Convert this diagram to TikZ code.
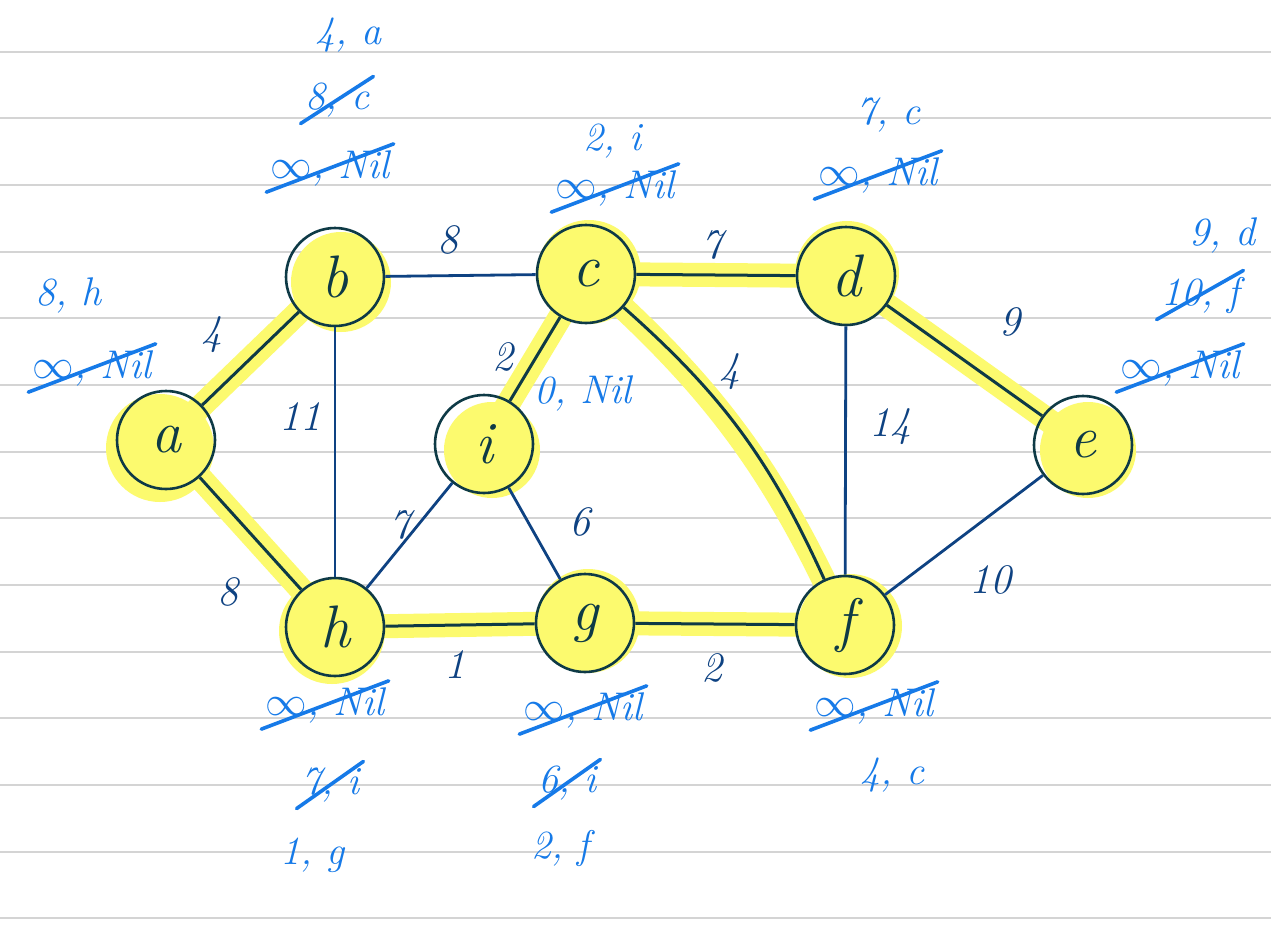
\documentclass[tikz,border=0pt]{standalone}
\begin{document}
\definecolor{ruling}{RGB}{212,212,212}
\definecolor{hl}{RGB}{252,250,110}
\definecolor{nodeline}{RGB}{14,58,70}
\definecolor{edgeblue}{RGB}{14,66,130}
\definecolor{noteblue}{RGB}{22,122,232}
\begin{tikzpicture}[x=0.5pt,y=-0.5pt,
  vertex/.style={circle, draw=nodeline, line width=1.3pt, minimum size=49pt, inner sep=0pt,
    font=\fontsize{30}{30}\selectfont\itshape, text=nodeline},
  plain/.style={draw=edgeblue, line width=1.4pt},
  tree/.style={draw=nodeline, line width=1.5pt},
  glow/.style={draw=hl, line width=12pt, line cap=round},
  weight/.style={text=edgeblue, inner sep=0pt, font=\fontsize{21}{21}\selectfont\itshape},
  note/.style={text=noteblue, inner sep=0pt, font=\fontsize{20}{20}\selectfont\itshape},
  strike/.style={draw=noteblue, line width=1.8pt, line cap=round}]
\useasboundingbox (0,0) rectangle (1271,933);
\fill[white] (0,0) rectangle (1271,933);
% ruled paper
\foreach \k in {0,...,13}
  \draw[ruling, line width=1pt] (0,{51.7+66.67*\k}) -- (1271,{51.7+66.67*\k});

% vertex centres
\coordinate (pa) at (166,440);
\coordinate (pb) at (335,277);
\coordinate (pc) at (586,274);
\coordinate (pd) at (846,276);
\coordinate (pe) at (1083,445);
\coordinate (pi) at (484,444);
\coordinate (ph) at (335,627);
\coordinate (pg) at (585,623);
\coordinate (pf) at (845,625);

% highlighter marks
\fill[hl] (160,448) circle (27pt);
\fill[hl] (341,282) circle (25pt);
\fill[hl] (589,272) circle (26pt);
\fill[hl] (847,273) circle (26pt);
\fill[hl] (1088,450) circle (24pt);
\fill[hl] (492,450) circle (24pt);
\fill[hl] (332,631) circle (26.5pt);
\fill[hl] (588,621) circle (26pt);
\fill[hl] (850,626) circle (26pt);
\draw[glow] (pa) -- (pb);
\draw[glow] (pa) -- (ph);
\draw[glow] (pc) -- (pi);
\draw[glow] (pc) -- (pd);
\draw[glow] (pc) to[bend left=12] (pf);
\draw[glow] (pd) -- (pe);
\draw[glow] (ph) -- (pg);
\draw[glow] (pg) -- (pf);

% vertices
\node[vertex] (a) at (pa) {a};
\node[vertex] (b) at (pb) {b};
\node[vertex] (c) at (pc) {c};
\node[vertex] (d) at (pd) {d};
\node[vertex] (e) at (pe) {e};
\node[vertex] (i) at (pi) {i};
\node[vertex] (h) at (ph) {h};
\node[vertex] (g) at (pg) {g};
\node[vertex] (f) at (pf) {f};

% edges
\draw[plain] (b) -- (c);
\draw[plain] (b) -- (h);
\draw[plain] (i) -- (h);
\draw[plain] (i) -- (g);
\draw[plain] (d) -- (f);
\draw[plain] (e) -- (f);
\draw[tree] (a) -- (b);
\draw[tree] (a) -- (h);
\draw[tree] (c) -- (i);
\draw[tree] (c) -- (d);
\draw[tree] (c) to[bend left=12] (f);
\draw[tree] (d) -- (e);
\draw[tree] (h) -- (g);
\draw[tree] (g) -- (f);

% weights
\node[weight] (wab) at (212,335) {4};
\node[weight] (wbh) at (300,417) {11};
\node[weight] (wbc) at (448,240) {8};
\node[weight] (wci) at (503,357) {2};
\node[weight] (wcd) at (712,245) {7};
\node[weight] (wcf) at (730,372) {4};
\node[weight] (wdf) at (890,427) {14};
\node[weight] (wde) at (1010,322) {9};
\node[weight] (wah) at (228,592) {8};
\node[weight] (whi) at (400,525) {7};
\node[weight] (wig) at (580,522) {6};
\node[weight] (whg) at (455,665) {1};
\node[weight] (wgf) at (712,668) {2};
\node[weight] (wef) at (990,580) {10};

% distance / predecessor notes
\node[note] (a1) at (68,295) {8, h};
\node[note] (a0) at (92,368) {$\infty$, Nil};
\node[note] (b2) at (348,35) {4, a};
\node[note] (b1) at (337,100) {8, c};
\node[note] (b0) at (330,168) {$\infty$, Nil};
\node[note] (c1) at (612,141) {2, i};
\node[note] (c0) at (615,188) {$\infty$, Nil};
\node[note] (d1) at (888,115) {7, c};
\node[note] (d0) at (878,175) {$\infty$, Nil};
\node[note] (e2) at (1222,235) {9, d};
\node[note] (e1) at (1200,295) {10, f};
\node[note] (e0) at (1180,368) {$\infty$, Nil};
\node[note] (i0) at (583,393) {0, Nil};
\node[note] (h0) at (325,705) {$\infty$, Nil};
\node[note] (h1) at (330,785) {7, i};
\node[note] (h2) at (312,855) {1, g};
\node[note] (g0) at (583,710) {$\infty$, Nil};
\node[note] (g1) at (567,783) {6, i};
\node[note] (g2) at (560,848) {2, f};
\node[note] (f0) at (874,706) {$\infty$, Nil};
\node[note] (f1) at (892,775) {4, c};

% crossed-out entries
\foreach \n in {a0,b1,b0,c0,d0,e1,e0,h0,h1,g0,g1,f0}
  \draw[strike] ([xshift=-2pt,yshift=-3pt]\n.south west) -- ([xshift=2pt,yshift=3pt]\n.north east);
\end{tikzpicture}
\end{document}
